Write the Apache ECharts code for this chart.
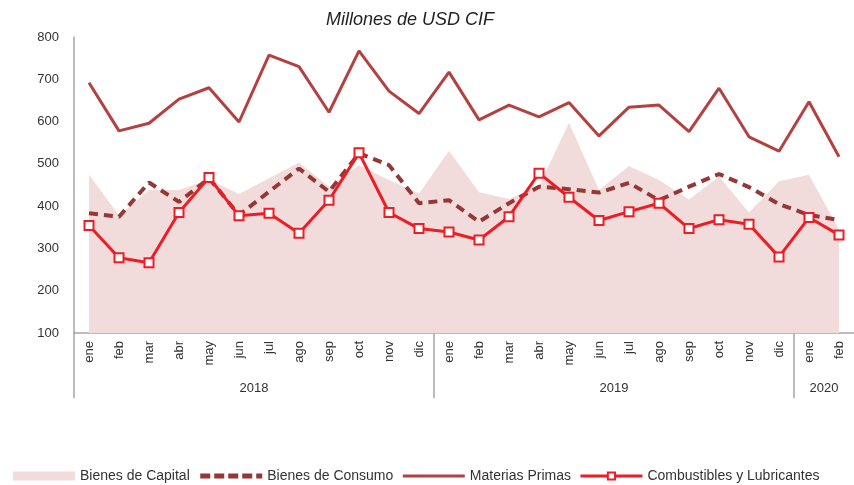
<!DOCTYPE html>
<html>
<head>
<meta charset="utf-8">
<script src="https://cdn.jsdelivr.net/npm/echarts@6/dist/echarts.min.js"></script>
<style>
html, body { margin: 0; padding: 0; background: #fff; }
#chart { width: 854px; height: 485px; }
</style>
</head>
<body>
<div id="chart"></div>
<script>
var meses = ['ene', 'feb', 'mar', 'abr', 'may', 'jun', 'jul', 'ago', 'sep', 'oct', 'nov', 'dic'];
var anios = ['2018', '2019', '2020'];
var mesesPorAnio = [12, 12, 2];

var bienesCapital = [474, 378, 438, 438, 463, 429, 466, 503, 446, 497, 462, 430,
    531, 433, 417, 447, 597, 438, 495, 462, 416, 470, 385, 459,
    474, 345];
var bienesConsumo = [383, 375, 456, 410, 466, 379, 434, 489, 434, 525, 497, 407,
    414, 363, 407, 446, 440, 432, 455, 414, 446, 476, 445, 405,
    379, 367];
var materiasPrimas = [692, 578, 596, 653, 680, 599, 757, 730, 622, 767, 672, 619,
    717, 604, 639, 611, 645, 566, 634, 639, 576, 679, 564, 530,
    647, 517];
var combustibles = [354, 278, 266, 385, 468, 377, 383, 336, 414, 526, 385, 347,
    339, 320, 375, 478, 421, 366, 387, 407, 347, 368, 357, 280,
    373, 332];

// month categories
var categorias = [];
for (var a = 0; a < anios.length; a++) {
    for (var m = 0; m < mesesPorAnio[a]; m++) {
        categorias.push(meses[m]);
    }
}

// year axis in half-month steps: separators between years and group centres
var total = categorias.length * 2;
var ejeAnios = [];
for (var i = 0; i <= total; i++) ejeAnios.push('');
var limites = [0];
var pos = 0;
for (var a = 0; a < anios.length; a++) {
    ejeAnios[pos + mesesPorAnio[a]] = anios[a];
    pos += mesesPorAnio[a] * 2;
    if (pos < total) limites.push(pos);
}

var myChart = echarts.init(document.getElementById('chart'));
var fuente = 'Liberation Sans';

option = {
    animation: false,
    textStyle: { fontFamily: fuente },
    title: {
        text: 'Millones de USD CIF',
        left: 405,
        textAlign: 'center',
        top: 6,
        textStyle: {
            fontSize: 18,
            fontStyle: 'italic',
            fontWeight: 'normal',
            color: '#222',
            fontFamily: fuente
        }
    },
    legend: {
        top: 464,
        left: 8,
        itemWidth: 62,
        itemHeight: 9,
        itemGap: 8,
        textStyle: { fontSize: 14, color: '#333', fontFamily: fuente },
        data: [
            { name: 'Bienes de Capital', icon: 'rect' },
            { name: 'Bienes de Consumo', itemStyle: { opacity: 0 },
              lineStyle: { width: 5, type: [10, 4] } },
            { name: 'Materias Primas', itemStyle: { opacity: 0 },
              lineStyle: { width: 3 } },
            { name: 'Combustibles y Lubricantes', lineStyle: { width: 3 } }
        ]
    },
    grid: {
        left: 74,
        right: 0,
        top: 37,
        bottom: 152,
        containLabel: false
    },
    xAxis: [{
        type: 'category',
        data: categorias,
        boundaryGap: true,
        axisLine: { lineStyle: { color: '#a6a6a6', width: 1.5 } },
        axisTick: { show: false },
        axisLabel: {
            rotate: 90,
            interval: 0,
            fontSize: 13,
            color: '#333',
            margin: 8
        }
    }, {
        type: 'category',
        data: ejeAnios,
        boundaryGap: false,
        position: 'bottom',
        axisLine: { show: false },
        axisTick: {
            show: true,
            length: 65,
            interval: function (idx) { return limites.indexOf(idx) >= 0; },
            lineStyle: { color: '#a6a6a6', width: 1.5 }
        },
        axisLabel: {
            interval: function (idx, val) { return val !== ''; },
            fontSize: 13,
            color: '#333',
            margin: 49
        }
    }],
    yAxis: {
        type: 'value',
        min: 100,
        max: 800,
        interval: 100,
        axisLine: { show: true, lineStyle: { color: '#a6a6a6', width: 1.5 } },
        axisTick: { show: false },
        splitLine: { show: false },
        axisLabel: { fontSize: 13, color: '#333', margin: 15 }
    },
    series: [{
        name: 'Bienes de Capital',
        type: 'line',
        data: bienesCapital,
        symbol: 'none',
        color: '#f2dcdb',
        lineStyle: { width: 0 },
        areaStyle: { color: '#f2dcdb', opacity: 1, origin: 'start' },
        z: 1
    }, {
        name: 'Materias Primas',
        type: 'line',
        data: materiasPrimas,
        symbol: 'none',
        color: '#b3413f',
        lineStyle: { width: 3, color: '#b3413f' },
        z: 2
    }, {
        name: 'Bienes de Consumo',
        type: 'line',
        data: bienesConsumo,
        symbol: 'none',
        color: '#953735',
        lineStyle: { width: 4, color: '#953735', type: [9, 6] },
        z: 3
    }, {
        name: 'Combustibles y Lubricantes',
        type: 'line',
        data: combustibles,
        symbol: 'rect',
        symbolSize: 9,
        color: '#ee1c25',
        itemStyle: { color: '#fff', borderColor: '#ee1c25', borderWidth: 2 },
        lineStyle: { width: 3, color: '#ee1c25' },
        z: 4
    }]
};

myChart.setOption(option);
</script>
</body>
</html>
